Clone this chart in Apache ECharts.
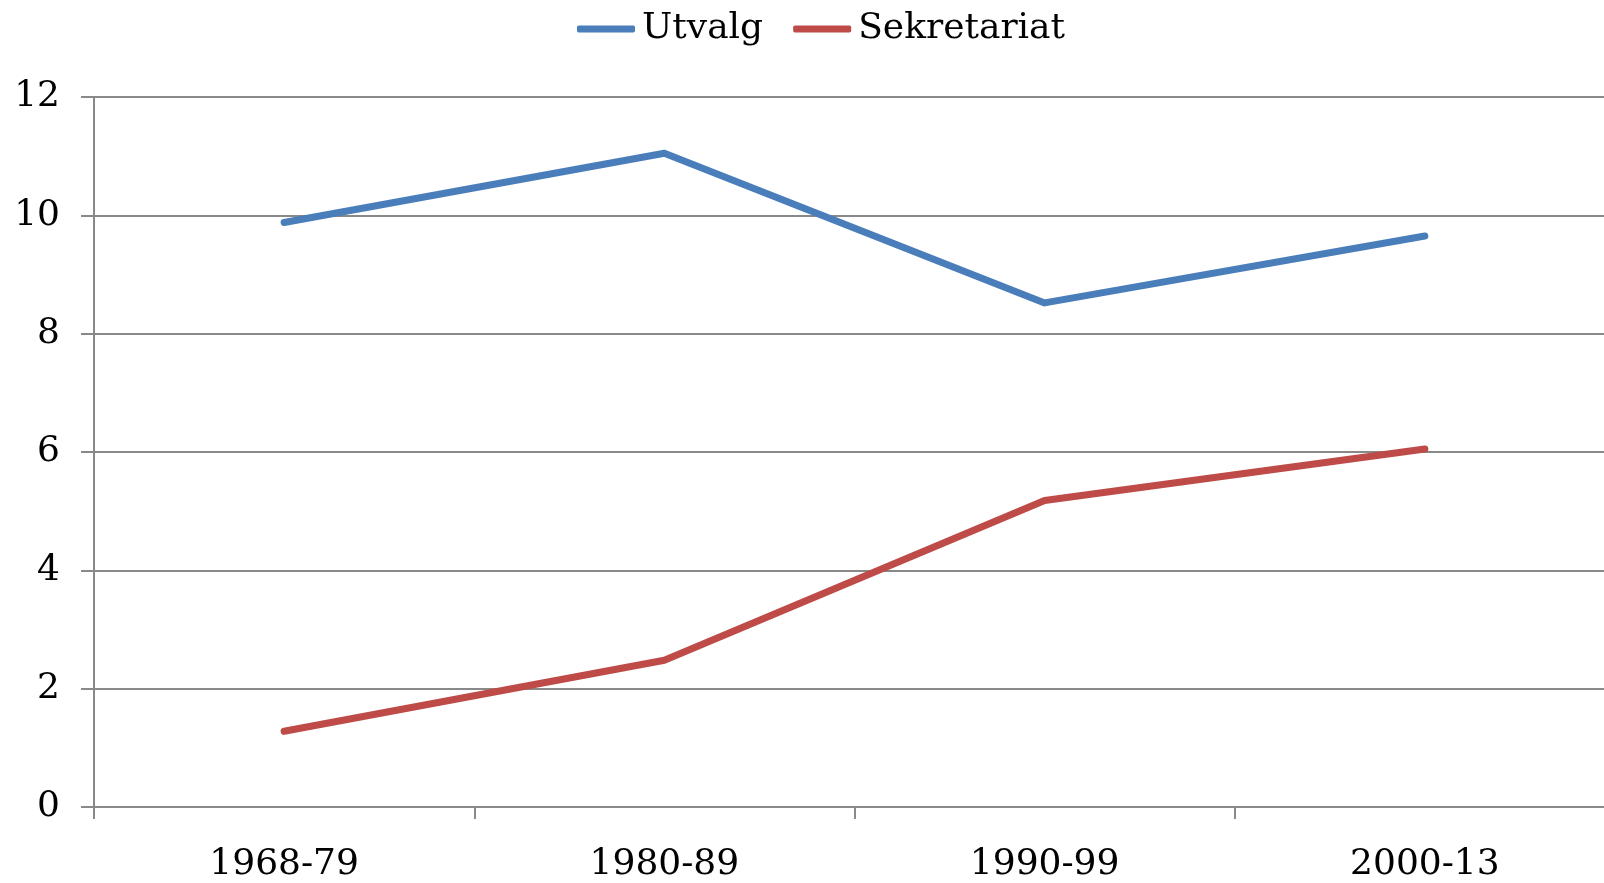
<!DOCTYPE html>
<html>
<head>
<meta charset="utf-8">
<script src="https://cdn.jsdelivr.net/npm/echarts@6/dist/echarts.min.js"></script>
<style>
  html, body { margin: 0; padding: 0; background: #fff; }
  #wrap { width: 1604px; height: 883px; overflow: hidden; position: relative; }
  /* a bit wider than the window: the last band runs off the right edge in the source */
  #chart { width: 1615px; height: 883px; }
</style>
</head>
<body>
<div id="wrap"><div id="chart"></div></div>
<script>
const periods = ['1968-79', '1980-89', '1990-99', '2000-13']
const utvalg = [9.88, 11.05, 8.52, 9.65]
const sekretariat = [1.28, 2.48, 5.18, 6.05]

const font = '"DejaVu Serif", "Liberation Serif", serif'
const axisGray = '#898989'

const chart = echarts.init(document.getElementById('chart'))
chart.setOption({
  animation: false,
  textStyle: { fontFamily: font },
  legend: {
    left: 572,
    top: 6,
    itemWidth: 58,
    itemHeight: 7,
    itemGap: 30,
    icon: 'roundRect',
    textStyle: { fontFamily: font, fontSize: 36, color: '#000', padding: [0, 0, 0, 2] },
    data: ['Utvalg', 'Sekretariat']
  },
  grid: { left: 94, right: 0, top: 97, bottom: 74 },
  xAxis: {
    type: 'category',
    data: periods,
    boundaryGap: true,
    axisLine: { show: true, lineStyle: { color: axisGray, width: 2 } },
    axisTick: { show: true, length: 12, lineStyle: { color: axisGray, width: 2 } },
    axisLabel: { color: '#000', fontSize: 36, fontFamily: font, margin: 40 }
  },
  yAxis: {
    type: 'value',
    min: 0,
    max: 12,
    interval: 2,
    axisLine: { show: true, lineStyle: { color: axisGray, width: 2 } },
    axisTick: { show: true, inside: false, length: 13, lineStyle: { color: axisGray, width: 2 } },
    axisLabel: { color: '#000', fontSize: 36, fontFamily: font, margin: 34, verticalAlign: 'middle', lineHeight: 40, padding: [6, 0, 0, 0] },
    splitLine: { lineStyle: { color: axisGray, width: 2 } }
  },
  series: [
    {
      name: 'Utvalg',
      type: 'line',
      data: utvalg,
      showSymbol: false,
      color: '#4a7ebb',
      lineStyle: { width: 7, cap: 'round', join: 'round' }
    },
    {
      name: 'Sekretariat',
      type: 'line',
      data: sekretariat,
      showSymbol: false,
      color: '#be4b48',
      lineStyle: { width: 7, cap: 'round', join: 'round' }
    }
  ]
})
</script>
</body>
</html>
